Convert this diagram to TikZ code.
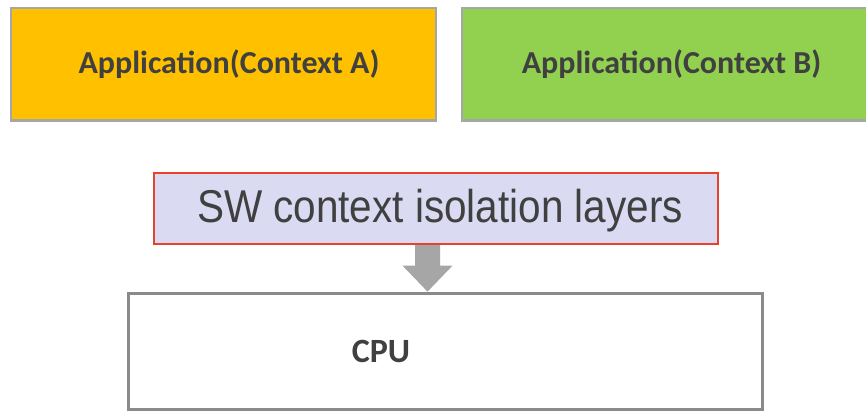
\documentclass[tikz,border=0pt]{standalone}
\usepackage{fontspec}
\setmainfont{Carlito}
\newfontfamily\arialfont{Liberation Sans}
\usetikzlibrary{calc}
\definecolor{appA}{HTML}{FFC000}
\definecolor{appB}{HTML}{92D050}
\definecolor{boxgray}{HTML}{A6A6A6}
\definecolor{cpugray}{HTML}{8A8A8A}
\definecolor{layerfill}{HTML}{DADAF2}
\definecolor{layerred}{HTML}{E8412C}
\definecolor{textgray}{HTML}{404040}
\definecolor{arrowgray}{HTML}{A6A6A6}
\begin{document}
\begin{tikzpicture}[x=1pt,y=-1pt,
  appbox/.style={draw=boxgray, line width=2.4pt, inner sep=0pt},
  layerbox/.style={draw=layerred, fill=layerfill, line width=2pt, inner sep=0pt},
  cpubox/.style={draw=cpugray, fill=white, line width=3.3pt, inner sep=0pt},
  boldlabel/.style={text=textgray, font=\bfseries\fontsize{32}{38}\selectfont, anchor=base, inner sep=0pt},
  thinlabel/.style={text=textgray, font=\arialfont\fontsize{46}{52}\selectfont, anchor=base, inner sep=0pt},
]
\useasboundingbox (0,0) rectangle (866,412);
\clip (0,0) rectangle (866,412);
\fill[white] (0,0) rectangle (866,412);

% application contexts
\node[appbox, fill=appA, minimum width=425pt, minimum height=112.5pt] (appA) at (223.5,64.25) {};
\node[appbox, fill=appB, minimum width=418pt, minimum height=112.5pt] (appB) at (671,64.25) {};
\node[boldlabel] (appAtext) at (229,74) {Application(Context A)};
\node[boldlabel] (appBtext) at (671.5,74) {Application(Context B)};

% isolation layer
\node[layerbox, minimum width=564pt, minimum height=71pt] (sw) at (436,208.5) {};
\node[thinlabel] (swtext) at (440,222) {\scalebox{0.88}[1]{SW context isolation layers}};

% CPU
\node[cpubox, minimum width=633.8pt, minimum height=116.4pt] (cpu) at (445.4,351.5) {};
\node[boldlabel, font=\bfseries\fontsize{34}{40}\selectfont] (cputext) at (381,362) {CPU};

% block arrow from the layer down to the CPU
\coordinate (ax) at (427.5,0);
\coordinate (s) at (sw.south -| ax);
\coordinate (t) at (cpu.north -| ax);
\fill[arrowgray] ([xshift=-12.5pt]s) -- ([xshift=12.5pt]s)
  -- ([xshift=12.5pt,yshift=26pt]t) -- ([xshift=25pt,yshift=26pt]t)
  -- (t)
  -- ([xshift=-25pt,yshift=26pt]t) -- ([xshift=-12.5pt,yshift=26pt]t) -- cycle;
\end{tikzpicture}
\end{document}
